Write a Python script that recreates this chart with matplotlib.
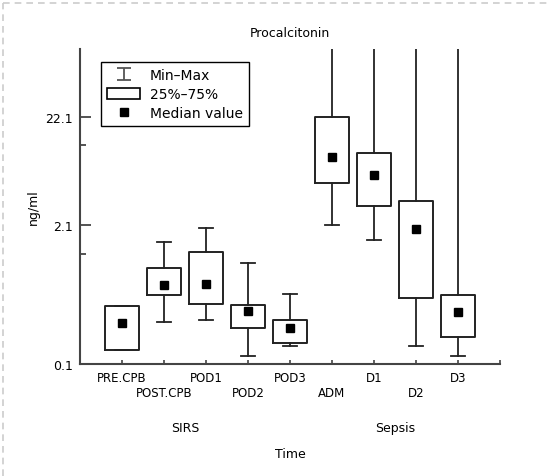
import matplotlib
matplotlib.use('Agg')
import matplotlib.pyplot as plt
from matplotlib.lines import Line2D
from matplotlib.patches import Patch
from matplotlib.path import Path
import matplotlib.ticker as mticker

# data (ng/ml)
groups = ['PRE.CPB', 'POST.CPB', 'POD1', 'POD2', 'POD3', 'ADM', 'D1', 'D2', 'D3']
mins = [0.137, 0.25, 0.26, 0.119, 0.149, 2.1, 1.51, 0.149, 0.118]
q1s = [0.137, 0.45, 0.37, 0.22, 0.159, 5.2, 3.14, 0.42, 0.179]
meds = [0.245, 0.56, 0.58, 0.316, 0.218, 9.2, 6.3, 1.91, 0.31]
q3s = [0.357, 0.815, 1.15, 0.367, 0.263, 22.1, 10.0, 3.5, 0.455]
maxs = [0.357, 1.45, 1.94, 0.91, 0.461, 100, 100, 100, 100]
yticks = [0.1, 2.1, 22.1]
yminor = [1.1, 12.1]
phases = ['SIRS', 'Sepsis']
phase_pos = [2.5, 7.5]

plt.rcParams['font.family'] = 'DejaVu Sans'
fig = plt.figure(figsize=(5.47, 4.77), dpi=100)
ax = fig.add_axes([0.1463, 0.2348, 0.7678, 0.6604])

pos = list(range(1, len(groups) + 1))
stats = []
for i in range(len(groups)):
    stats.append({'whislo': mins[i], 'q1': q1s[i], 'med': meds[i],
                  'q3': q3s[i], 'whishi': maxs[i]})

lc = '#222222'
ax.bxp(stats, positions=pos, widths=0.83, showfliers=False,
       boxprops=dict(color=lc, linewidth=1.4),
       whiskerprops=dict(color=lc, linewidth=1.3),
       capprops=dict(color=lc, linewidth=1.3),
       medianprops=dict(linewidth=0),
       capwidths=0.32)
ax.plot(pos, meds, 's', color='black', markersize=5.5, linestyle='none')

ax.set_yscale('log')
ax.set_ylim(0.1, 98)
ax.set_xlim(0, 10)
ax.yaxis.set_major_locator(mticker.FixedLocator(yticks))
ax.yaxis.set_major_formatter(mticker.FixedFormatter([str(t) for t in yticks]))
ax.yaxis.set_minor_locator(mticker.FixedLocator(yminor))
ax.yaxis.set_minor_formatter(mticker.NullFormatter())

# x labels on two staggered rows: odd ones on major ticks, even ones on minor ticks
ax.xaxis.remove_overlapping_locs = False
ax.set_xticks(pos + [10])
ax.set_xticklabels([g if i % 2 == 0 else '' for i, g in enumerate(groups)] + [''],
                   fontsize=8.5)
ax.set_xticks(pos[1::2], minor=True)
ax.set_xticklabels(groups[1::2], minor=True, fontsize=8.5)

spc = '#444444'
for s in ['top', 'right']:
    ax.spines[s].set_visible(False)
for s in ['left', 'bottom']:
    ax.spines[s].set_color(spc)
    ax.spines[s].set_linewidth(1.5)
ax.tick_params(axis='y', which='major', direction='in', length=8, width=1.3,
               color=spc, labelsize=9, pad=5)
ax.tick_params(axis='y', which='minor', direction='in', length=4, width=1.3, color=spc)
ax.tick_params(axis='x', which='major', direction='in', length=3, width=1.2, color=spc, pad=5)
ax.tick_params(axis='x', which='minor', direction='in', length=0, pad=16)

ax.set_title('Procalcitonin', fontsize=9, pad=9)
ax.set_ylabel('ng/ml', fontsize=9)
ax.yaxis.set_label_coords(-0.095, 0.5)
ax.set_xlabel('Time', fontsize=9)
ax.xaxis.set_label_coords(0.5, -0.265)
for p, name in zip(phase_pos, phases):
    ax.text(p, -0.2, name, transform=ax.get_xaxis_transform(), ha='center',
            va='center', fontsize=9)

# legend; the min-max symbol is an "I" shaped marker
ibar = Path([(-1, -0.8), (1, -0.8), (0, -0.8), (0, 0.8), (-1, 0.8), (1, 0.8)],
            [Path.MOVETO, Path.LINETO, Path.MOVETO, Path.LINETO, Path.MOVETO, Path.LINETO])
handles = [Line2D([], [], marker=ibar, markersize=10, markeredgecolor='#555555',
                  markerfacecolor='none', markeredgewidth=1.3, linestyle='none'),
           Patch(facecolor='white', edgecolor='black', linewidth=1.2),
           Line2D([], [], marker='s', color='black', linestyle='none', markersize=5.5)]
leg = ax.legend(handles, ['Min–Max', '25%–75%', 'Median value'], loc='upper left',
                bbox_to_anchor=(0.049, 0.958), borderaxespad=0, fontsize=10,
                fancybox=False, framealpha=1, handlelength=2.4, handleheight=0.8,
                handletextpad=0.7, labelspacing=0.35, borderpad=0.45)
leg.get_frame().set_edgecolor('black')
leg.get_frame().set_linewidth(1.0)

# dashed page border at the top and left edges
fig.add_artist(Line2D([0.006, 1], [0.992, 0.992], transform=fig.transFigure,
                      color='#cccccc', linestyle=(0, (4, 3)), linewidth=1.2))
fig.add_artist(Line2D([0.006, 0.006], [0, 0.992], transform=fig.transFigure,
                      color='#cccccc', linestyle=(0, (4, 3)), linewidth=1.2))

fig.savefig('out.png', dpi=100)
